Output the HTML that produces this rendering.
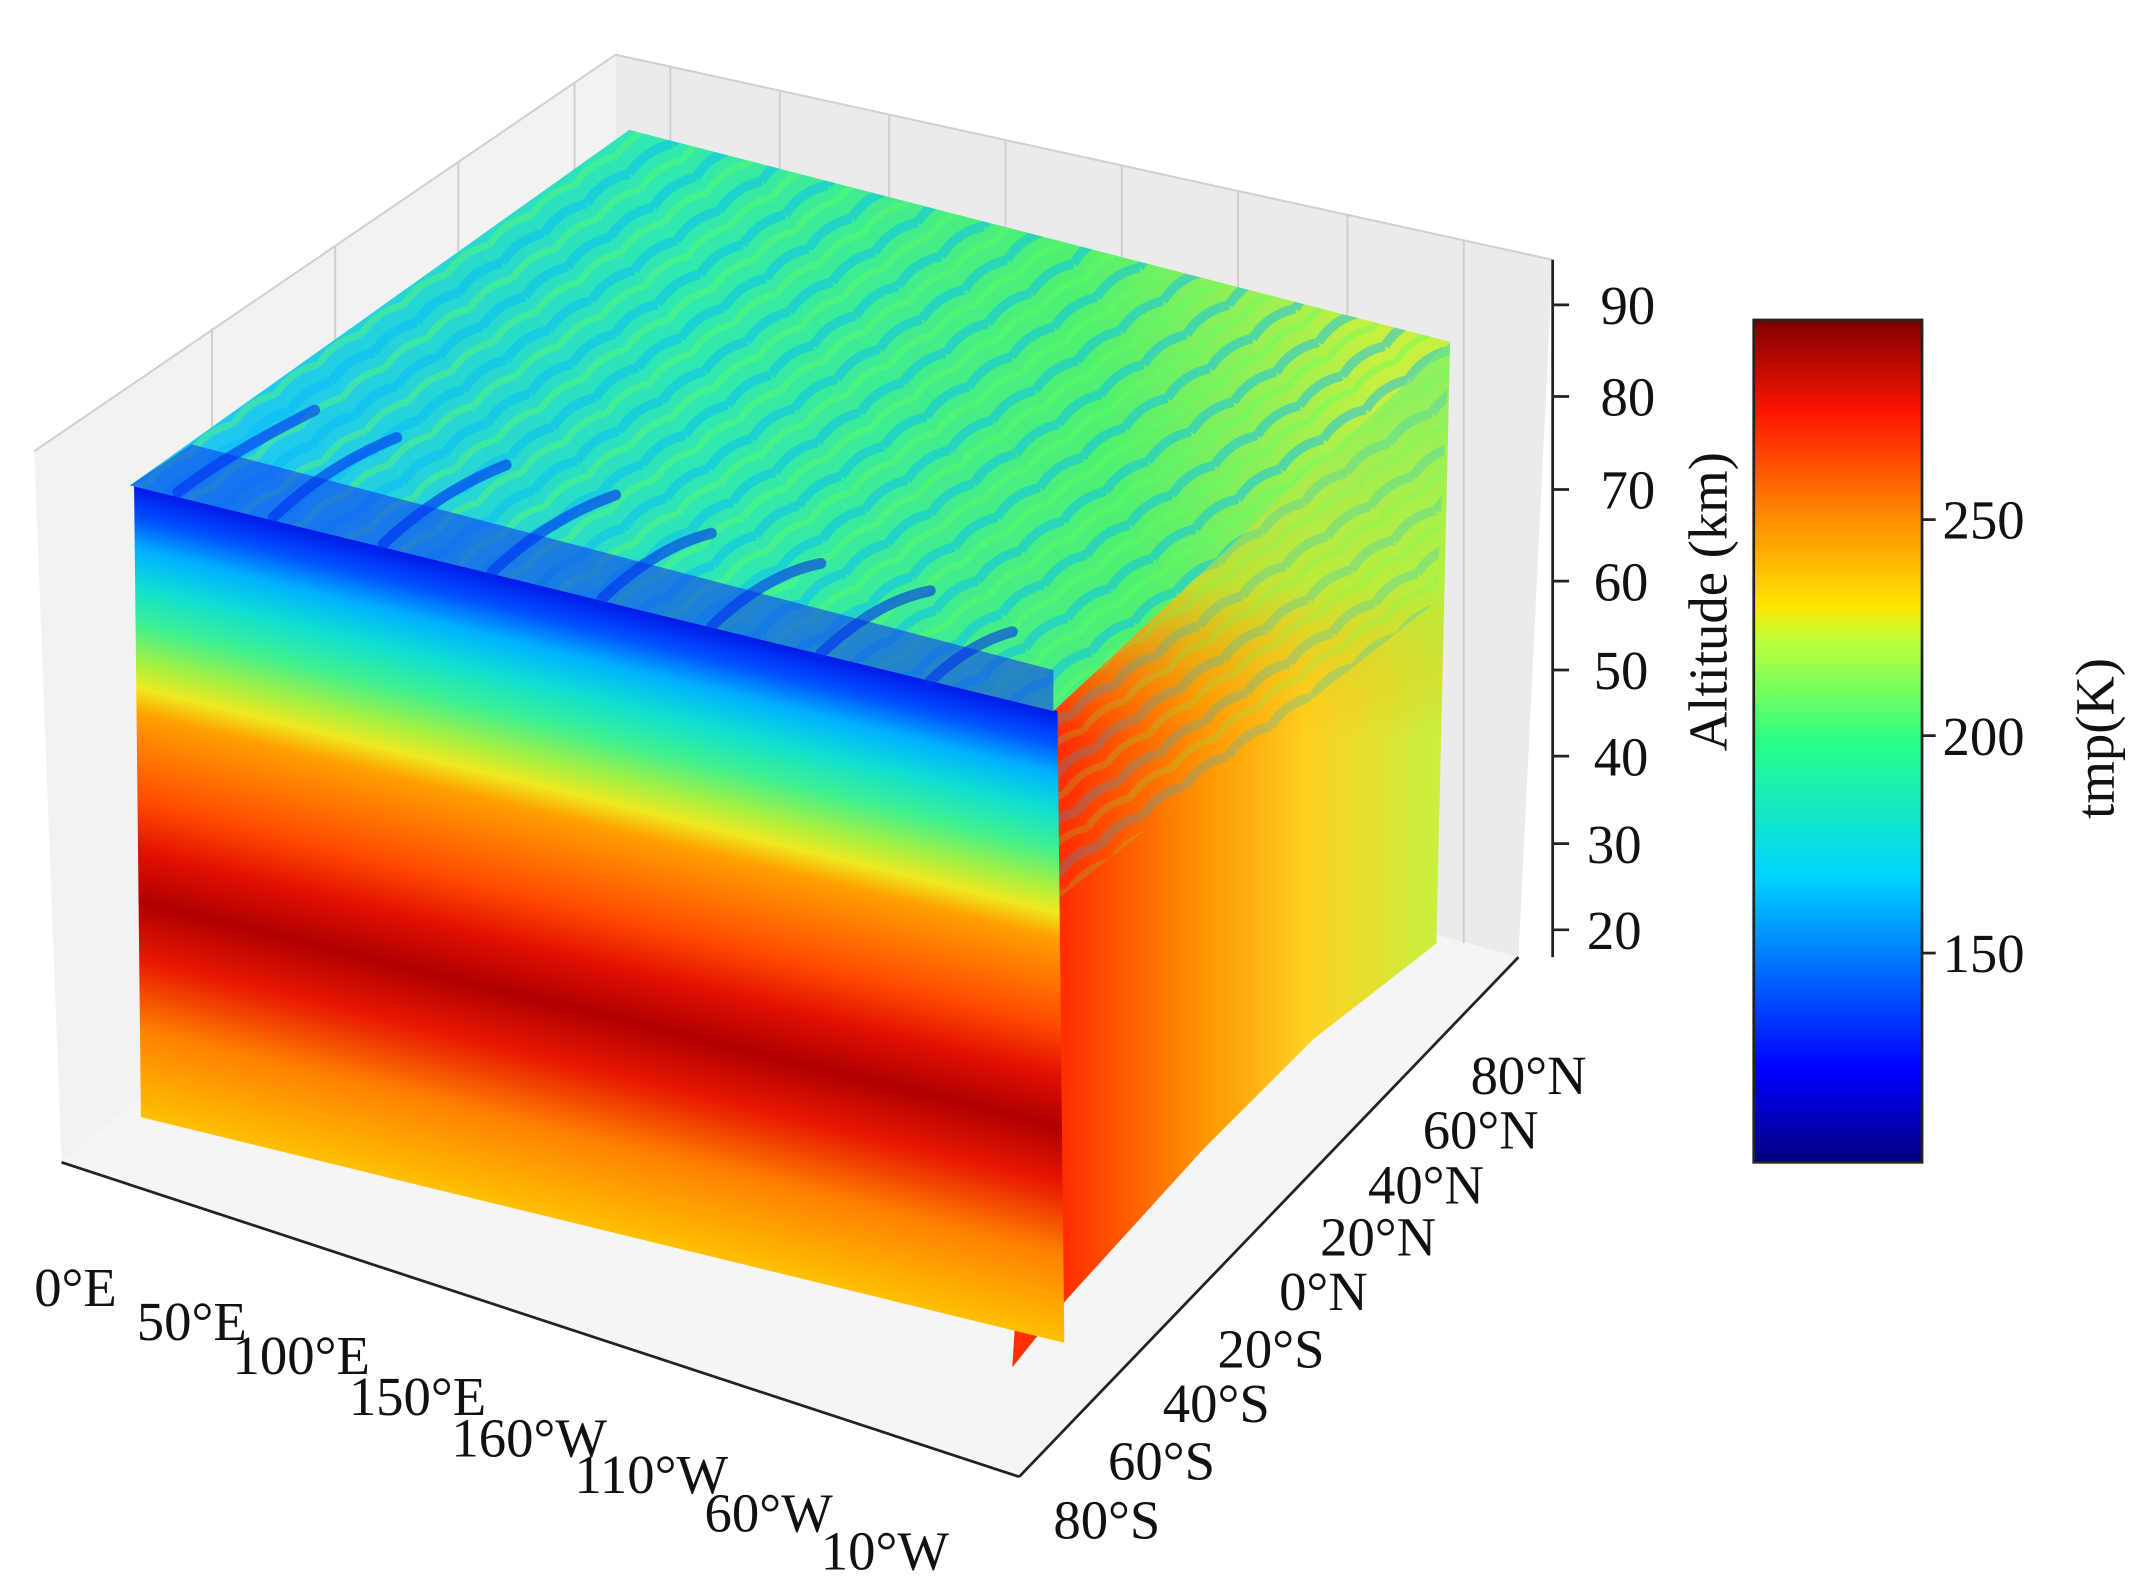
<!DOCTYPE html>
<html><head><meta charset="utf-8"><style>
html,body{margin:0;padding:0;background:#fff;}
svg{display:block;}
text{font-family:"Liberation Serif",serif;fill:#111;}
</style></head><body>
<svg width="2145" height="1593" viewBox="0 0 1568 1165" preserveAspectRatio="none" xmlns="http://www.w3.org/2000/svg">
<defs>
<linearGradient id="jet" x1="0" y1="1" x2="0" y2="0">
<stop offset="0" stop-color="#00007f"/><stop offset="0.11" stop-color="#0000ff"/>
<stop offset="0.34" stop-color="#00d4ff"/><stop offset="0.5" stop-color="#29ff86"/>
<stop offset="0.62" stop-color="#bfff39"/><stop offset="0.66" stop-color="#ffe500"/>
<stop offset="0.78" stop-color="#ff7e00"/><stop offset="0.89" stop-color="#ff1400"/>
<stop offset="1" stop-color="#7f0000"/></linearGradient>
<linearGradient id="front" x1="0" y1="0" x2="0" y2="1">
<stop offset="0" stop-color="#0018e8"/><stop offset="0.05" stop-color="#0050ff"/>
<stop offset="0.1" stop-color="#00b0ff"/><stop offset="0.16" stop-color="#10e0d0"/>
<stop offset="0.22" stop-color="#40f090"/><stop offset="0.28" stop-color="#a8f040"/>
<stop offset="0.32" stop-color="#f0e820"/><stop offset="0.36" stop-color="#ffa000"/>
<stop offset="0.5" stop-color="#ff4a00"/><stop offset="0.58" stop-color="#e01000"/>
<stop offset="0.66" stop-color="#b00000"/><stop offset="0.75" stop-color="#e81800"/>
<stop offset="0.86" stop-color="#ff8000"/><stop offset="1" stop-color="#ffc000"/></linearGradient>
<linearGradient id="top" gradientUnits="userSpaceOnUse" x1="200" y1="380" x2="1000" y2="220">
<stop offset="0" stop-color="#20c8f0"/><stop offset="0.4" stop-color="#30e8b0"/>
<stop offset="0.75" stop-color="#50f070"/><stop offset="1" stop-color="#c8f040"/></linearGradient>
<linearGradient id="side" gradientUnits="userSpaceOnUse" x1="780" y1="600" x2="1050" y2="600">
<stop offset="0" stop-color="#ff3000"/><stop offset="0.35" stop-color="#ff9000"/>
<stop offset="0.65" stop-color="#ffd020"/><stop offset="1" stop-color="#c8f040"/></linearGradient>
<linearGradient id="sidev" gradientUnits="userSpaceOnUse" x1="0" y1="280" x2="0" y2="650">
<stop offset="0" stop-color="#90f060" stop-opacity="1"/><stop offset="0.4" stop-color="#b0f040" stop-opacity="0.8"/>
<stop offset="0.7" stop-color="#ffb000" stop-opacity="0"/></linearGradient>
<pattern id="strands" width="38" height="30" patternUnits="userSpaceOnUse" patternTransform="rotate(-35)">
<path d="M0 8 Q19 0 38 8" stroke="#00b8ff" stroke-width="7" fill="none" opacity="0.45"/>
<path d="M0 22 Q19 14 38 22" stroke="#60ff60" stroke-width="5" fill="none" opacity="0.4"/>
</pattern>
</defs>
<polygon points="25,330 450,40 450,520 45,850" fill="#f2f2f2"/>
<polygon points="450,40 1135,190 1110,700 450,520" fill="#ebebeb"/>
<polygon points="45,850 450,520 1110,700 745,1080" fill="#f5f5f5"/>
<g stroke="#d0d0d0" stroke-width="1.5" fill="none">
<line x1="490" y1="48" x2="490" y2="530"/><line x1="570" y1="66" x2="570" y2="550"/>
<line x1="650" y1="84" x2="650" y2="575"/><line x1="735" y1="102" x2="735" y2="598"/>
<line x1="820" y1="120" x2="820" y2="620"/><line x1="905" y1="140" x2="905" y2="645"/>
<line x1="985" y1="157" x2="985" y2="665"/><line x1="1070" y1="176" x2="1070" y2="690"/>
<line x1="420" y1="60" x2="420" y2="545"/><line x1="335" y1="118" x2="335" y2="615"/>
<line x1="245" y1="180" x2="245" y2="690"/><line x1="155" y1="240" x2="155" y2="760"/>
<line x1="25" y1="330" x2="450" y2="40"/><line x1="450" y1="40" x2="1135" y2="190"/>
</g>
<polygon points="770,520 1060,250 1050,690 960,760 880,840 780,950 740,1000" fill="url(#side)"/>
<polygon points="770,520 1060,250 1050,690 960,760 880,840 780,950 740,1000" fill="url(#sidev)"/>
<polygon points="770,520 1060,250 1050,440 770,660" fill="url(#strands)" opacity="0.5"/>
<g transform="matrix(675,165,5,462,98,355)">
<rect x="0" y="0" width="1" height="1" fill="url(#front)"/>
</g>
<polygon points="95,355 460,95 1060,250 770,520" fill="url(#top)"/>
<polygon points="95,355 460,95 1060,250 770,520" fill="url(#strands)"/>
<polygon points="95,355 140,325 770,490 770,520" fill="#1040f0" opacity="0.6"/>
<g stroke="#0030f0" stroke-width="8" fill="none" stroke-linecap="round" opacity="0.6">
<path d="M130 360 Q170 330 230 300"/><path d="M200 378 Q240 340 290 320"/>
<path d="M280 398 Q320 360 370 340"/><path d="M360 418 Q400 380 450 362"/>
<path d="M440 438 Q480 400 520 390"/><path d="M520 458 Q560 420 600 412"/>
<path d="M600 478 Q640 440 680 432"/><path d="M680 498 Q710 470 740 462"/>
</g>
<g stroke="#222" stroke-width="2" fill="none">
<line x1="45" y1="850" x2="745" y2="1080"/><line x1="745" y1="1080" x2="1110" y2="700"/>
<line x1="1135" y1="190" x2="1135" y2="700"/>
</g>
<g stroke="#222" stroke-width="2">
<line x1="1135" y1="223" x2="1147" y2="223"/><line x1="1135" y1="290" x2="1147" y2="290"/>
<line x1="1135" y1="358" x2="1147" y2="358"/><line x1="1135" y1="425" x2="1147" y2="425"/>
<line x1="1135" y1="490" x2="1147" y2="490"/><line x1="1135" y1="553" x2="1147" y2="553"/>
<line x1="1135" y1="617" x2="1147" y2="617"/><line x1="1135" y1="680" x2="1147" y2="680"/>
</g>
<g font-size="40">
<text x="1170" y="237">90</text><text x="1170" y="304">80</text><text x="1170" y="372">70</text>
<text x="1165" y="439">60</text><text x="1165" y="504">50</text><text x="1165" y="567">40</text>
<text x="1160" y="631">30</text><text x="1160" y="694">20</text>
<text x="25" y="955">0°E</text><text x="100" y="980">50°E</text><text x="170" y="1005">100°E</text>
<text x="255" y="1035">150°E</text><text x="330" y="1065">160°W</text><text x="420" y="1092">110°W</text>
<text x="515" y="1120">60°W</text><text x="600" y="1148">10°W</text>
<text x="1075" y="800">80°N</text><text x="1040" y="840">60°N</text><text x="1000" y="880">40°N</text>
<text x="965" y="918">20°N</text><text x="935" y="958">0°N</text><text x="890" y="1000">20°S</text>
<text x="850" y="1040">40°S</text><text x="810" y="1082">60°S</text><text x="770" y="1125">80°S</text>
<text transform="translate(1262,440) rotate(-90)" text-anchor="middle">Altitude (km)</text>
<text transform="translate(1545,540) rotate(-90)" text-anchor="middle">tmp(K)</text>
<text x="1420" y="394">250</text><text x="1420" y="552">200</text><text x="1420" y="711">150</text>
</g>
<rect x="1282" y="234" width="123" height="616" fill="url(#jet)" stroke="#222" stroke-width="2"/>
<g stroke="#222" stroke-width="2">
<line x1="1405" y1="380" x2="1415" y2="380"/><line x1="1405" y1="538" x2="1415" y2="538"/><line x1="1405" y1="697" x2="1415" y2="697"/>
</g>
</svg>
</body></html>
